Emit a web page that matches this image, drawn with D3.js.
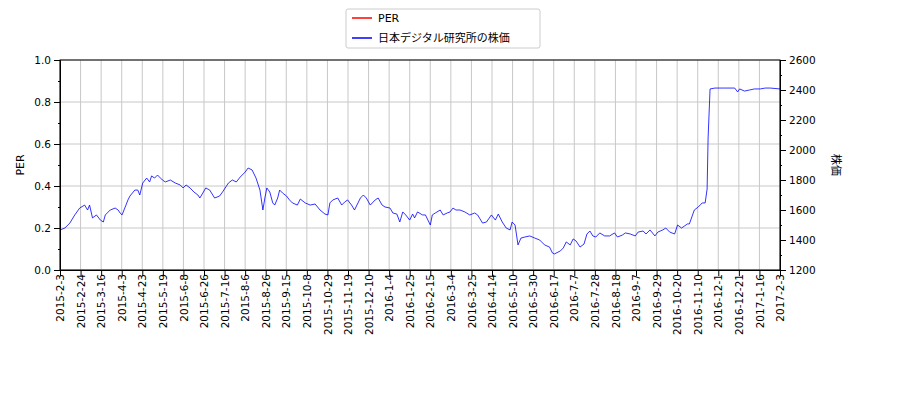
<!DOCTYPE html>
<html><head><meta charset="utf-8">
<script src="https://cdn.jsdelivr.net/npm/d3@7"></script>
<style>body{margin:0;background:#fff}text{font-family:"DejaVu Sans","Noto Sans CJK JP",sans-serif;font-size:11px}</style>
</head><body><div id="chart"></div>
<script>
// days since 2015-2-3, and the stock price
var dayOffsets = [0,5,10,15,20,25,28,30,33,37,41,44,46,51,56,59,61,63,67,69,71,76,79,81,84,88,91,93,96,99,104,107,112,117,122,125,128,132,136,140,142,145,148,152,157,162,165,171,175,179,183,188,191,195,199,203,206,208,210,213,216,218,221,223,226,230,233,236,241,244,249,254,259,264,269,272,274,277,282,286,289,292,296,299,305,308,311,315,320,323,327,330,335,338,342,345,348,351,355,358,360,363,368,371,376,378,381,386,389,393,396,399,402,406,411,416,421,424,429,433,438,442,445,449,453,457,459,462,465,468,472,477,482,487,492,497,500,502,508,511,514,518,521,524,528,532,535,538,541,544,548,553,558,563,566,571,574,579,584,587,592,595,599,604,607,612,615,619,624,627,631,634,637,639,644,648,652,655,657,658,660,665,675,685,688,690,695,700,705,711,716,721,731];
var prices = [1467,1480,1513,1567,1613,1633,1600,1633,1547,1567,1533,1520,1567,1600,1613,1600,1580,1567,1633,1667,1693,1733,1733,1700,1780,1813,1787,1827,1813,1833,1800,1787,1800,1780,1767,1747,1767,1747,1720,1700,1680,1713,1747,1733,1680,1693,1720,1780,1800,1787,1820,1853,1880,1867,1813,1733,1600,1680,1747,1720,1647,1633,1680,1733,1713,1693,1667,1647,1633,1673,1647,1633,1640,1600,1573,1567,1647,1667,1680,1633,1653,1667,1633,1600,1680,1700,1680,1633,1667,1680,1633,1620,1613,1580,1573,1520,1587,1567,1533,1573,1547,1587,1567,1567,1500,1567,1580,1600,1567,1580,1587,1613,1600,1600,1587,1567,1580,1567,1513,1520,1567,1533,1573,1520,1480,1467,1520,1500,1367,1413,1420,1427,1413,1400,1367,1353,1313,1307,1327,1347,1387,1367,1407,1393,1353,1373,1440,1460,1427,1420,1447,1427,1427,1447,1420,1433,1447,1440,1427,1453,1460,1440,1467,1427,1453,1467,1480,1453,1440,1500,1480,1493,1507,1507,1600,1620,1647,1647,1740,2080,2407,2413,2413,2413,2387,2407,2393,2400,2407,2407,2413,2413,2407];
var perValues = [];
var tickLabels = ["2015-2-3","2015-2-24","2015-3-16","2015-4-3","2015-4-23","2015-5-19","2015-6-8","2015-6-26","2015-7-16","2015-8-6","2015-8-26","2015-9-15","2015-10-8","2015-10-29","2015-11-19","2015-12-10","2016-1-4","2016-1-25","2016-2-15","2016-3-4","2016-3-25","2016-4-14","2016-5-10","2016-5-30","2016-6-17","2016-7-7","2016-7-28","2016-8-18","2016-9-7","2016-9-29","2016-10-20","2016-11-10","2016-12-1","2016-12-21","2017-1-16","2017-2-3"];

var margin = {top: 60, right: 120, bottom: 130, left: 60};
var width = 900, height = 400;
var innerWidth = width - margin.left - margin.right;
var innerHeight = height - margin.top - margin.bottom;
var span = 731;
var tickPos = tickLabels.map(function(d, i) { return i * span / (tickLabels.length - 1); });
var priceData = dayOffsets.map(function(d, i) { return {pos: d, value: prices[i]}; });

var svg = d3.select("#chart").append("svg").attr("width", width).attr("height", height);
var g = svg.append("g").attr("transform", "translate(" + margin.left + "," + margin.top + ")");

var x = d3.scaleLinear().domain([0, span]).range([0, innerWidth]);
var yLeft = d3.scaleLinear().domain([0, 1]).range([innerHeight, 0]);
var yRight = d3.scaleLinear().domain([1200, 2600]).range([innerHeight, 0]);

// grid
g.selectAll(".vgrid").data(tickPos).enter().append("line")
    .attr("x1", function(d) { return x(d); }).attr("x2", function(d) { return x(d); })
    .attr("y1", 0).attr("y2", innerHeight).attr("stroke", "#c8c8c8").attr("stroke-width", 1);
g.selectAll(".hgrid").data(d3.range(0, 1.01, 0.2)).enter().append("line")
    .attr("x1", 0).attr("x2", innerWidth)
    .attr("y1", function(d) { return yLeft(d); }).attr("y2", function(d) { return yLeft(d); })
    .attr("stroke", "#c8c8c8").attr("stroke-width", 1);

var line = d3.line().x(function(d) { return x(d.pos); }).y(function(d) { return yRight(d.value); });
g.append("path").datum(priceData).attr("d", line)
    .attr("fill", "none").attr("stroke", "#0000ff").attr("stroke-width", 0.8);

// axes
var xAxis = g.append("g").attr("transform", "translate(0," + innerHeight + ")")
    .call(d3.axisBottom(x).tickValues(tickPos).tickFormat(function(d, i) { return tickLabels[i]; }).tickSizeOuter(0));
xAxis.selectAll("text").attr("transform", "rotate(-90)").attr("text-anchor", "end")
    .attr("x", -4).attr("y", 0).attr("dy", "0.35em");
g.append("g").call(d3.axisLeft(yLeft).tickValues(d3.range(0, 1.01, 0.2)).tickFormat(d3.format(".1f")).tickSizeOuter(0));
g.append("g").call(d3.axisLeft(yLeft).tickValues(d3.range(0.1, 1, 0.2)).tickSize(2).tickFormat("").tickSizeOuter(0));
g.append("g").attr("transform", "translate(" + innerWidth + ",0)")
    .call(d3.axisRight(yRight).tickValues(d3.range(1200, 2601, 200)).tickFormat(d3.format("d")).tickSizeOuter(0));
g.append("g").attr("transform", "translate(" + innerWidth + ",0)")
    .call(d3.axisRight(yRight).tickValues(d3.range(1300, 2600, 200)).tickSize(2).tickFormat("").tickSizeOuter(0));
g.selectAll(".domain").attr("stroke", "#000");
g.selectAll(".tick text").attr("fill", "#000").style("font-size", "10.5px");
g.append("rect").attr("width", innerWidth).attr("height", innerHeight)
    .attr("fill", "none").attr("stroke", "#000").attr("stroke-width", 1);

svg.append("text").attr("transform", "translate(24," + (margin.top + innerHeight / 2) + ") rotate(-90)")
    .attr("text-anchor", "middle").text("PER");
svg.append("text").attr("transform", "translate(832," + (margin.top + innerHeight / 2) + ") rotate(90)")
    .attr("text-anchor", "middle").text("株価");

// legend
var legend = svg.append("g").attr("transform", "translate(346,9)");
legend.append("rect").attr("width", 194).attr("height", 39).attr("fill", "#fff")
    .attr("stroke", "#ccc").attr("rx", 2);
var items = [{label: "PER", color: "#ff0000"}, {label: "日本デジタル研究所の株価", color: "#0000ff"}];
items.forEach(function(d, i) {
    var yy = 9 + i * 20;
    legend.append("line").attr("x1", 6).attr("x2", 26).attr("y1", yy).attr("y2", yy)
        .attr("stroke", d.color).attr("stroke-width", 1.5);
    legend.append("text").attr("x", 32).attr("y", yy).attr("dy", "0.35em").text(d.label);
});
</script></body></html>
